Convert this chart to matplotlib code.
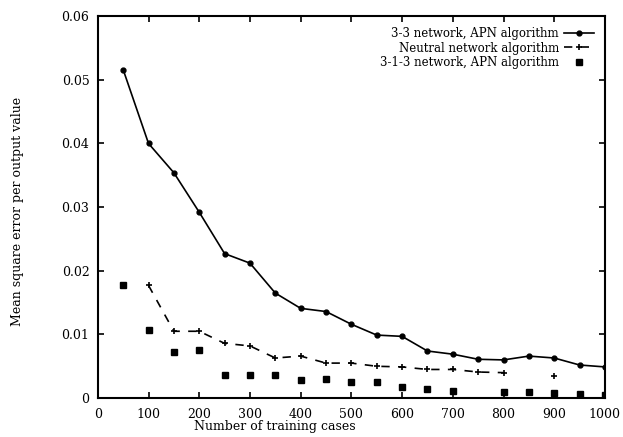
import numpy as np
import matplotlib
matplotlib.use("Agg")
import matplotlib.pyplot as plt

plt.rcParams['font.family'] = ['DejaVu Serif']

# training cases
cases = [50, 100, 150, 200, 250, 300, 350, 400, 450, 500,
         550, 600, 650, 700, 750, 800, 850, 900, 950, 1000]

# 3-3 network, APN algorithm
apn_33 = [0.0516, 0.0400, 0.0354, 0.0292, 0.0227, 0.0212, 0.0165, 0.0141, 0.0136, 0.0116,
          0.0099, 0.0097, 0.0074, 0.0069, 0.0061, 0.0060, 0.0066, 0.0063, 0.0052, 0.0049]

# neutral network algorithm
nn_cases = [100, 150, 200, 250, 300, 350, 400, 450, 500, 550, 600, 650, 700, 750, 800, 850, 900]
nn_vals = [0.0177, 0.0105, 0.0105, 0.0086, 0.0082, 0.0063, 0.0066, 0.0055, 0.0055, 0.0050,
           0.0049, 0.0045, 0.0045, 0.0041, 0.0040, np.nan, 0.0035]

# 3-1-3 network, APN algorithm
apn_313 = [0.0177, 0.0107, 0.0072, 0.0075, 0.0036, 0.0037, 0.0036, 0.0028, 0.0030, 0.0025,
           0.0025, 0.0018, 0.0014, 0.0011, np.nan, 0.0010, 0.0010, 0.0008, 0.0007, 0.0005]

xticks = list(range(0, 1001, 100))
yticks = [0, 0.01, 0.02, 0.03, 0.04, 0.05, 0.06]
ytick_labels = ['0', '0.01', '0.02', '0.03', '0.04', '0.05', '0.06']

fig = plt.figure(figsize=(6.23, 4.37), dpi=100)
ax = fig.add_axes([0.157, 0.089, 0.814, 0.874])

ax.plot(cases, apn_33, color='black', lw=1.2, marker='o', ms=3.5,
        label='3-3 network, APN algorithm')
ax.plot(nn_cases, nn_vals, color='black', lw=1.2, ls=(0, (5, 5)), marker='+', ms=5,
        mew=1.2, label='Neutral network algorithm')
ax.plot(cases, apn_313, color='black', lw=0, marker='s', ms=4,
        label='3-1-3 network, APN algorithm')

ax.set_xlim(0, 1000)
ax.set_ylim(0, 0.06)
ax.set_xticks(xticks)
ax.set_yticks(yticks)
ax.set_yticklabels(ytick_labels)
ax.tick_params(direction='in', top=True, right=True, labelsize=9, length=4, width=1.2)
ax.tick_params(axis='x', pad=7)
ax.tick_params(axis='y', pad=6)
for s in ax.spines.values():
    s.set_linewidth(1.5)

ax.set_xlabel('Number of training cases', fontsize=9)
ax.set_ylabel('Mean square error per output value', fontsize=9)
ax.xaxis.set_label_coords(0.35, -0.058)
ax.yaxis.set_label_coords(-0.145, 0.49)

leg = ax.legend(loc='upper right', frameon=False, markerfirst=False, fontsize=8.5,
                handlelength=2.6, handletextpad=0.4, labelspacing=0.15,
                borderaxespad=0.5, borderpad=0.4)

fig.savefig('out.png', dpi=100)
